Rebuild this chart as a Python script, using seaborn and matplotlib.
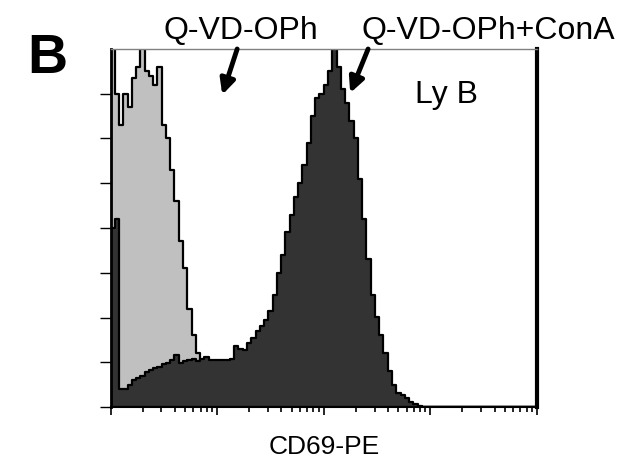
import numpy as np
import matplotlib
matplotlib.use("Agg")
import matplotlib.pyplot as plt
import seaborn as sns

# CD69-PE histogram, 100 bins per log10 channel from 10^1 to 10^5
log_edges = list(np.linspace(1, 5, 101))
bin_mid = 10 ** ((np.array(log_edges[:-1]) + np.array(log_edges[1:])) / 2)

# event counts per bin (first bins only, rest are empty)
qvd = [95, 70, 63, 70, 67, 73.5, 76, 82, 75, 74, 72, 76, 63, 60, 53, 46,
       37, 31, 22, 16, 12, 9, 6, 4, 2, 1]
qvd_cona = [40, 42, 4, 4, 5, 6, 6.5, 7, 7.8, 8.3,
            8.8, 9, 9.5, 9.8, 10.5, 11.6, 9.8, 10.3, 10.5, 10.8,
            10.2, 10.8, 11.2, 10.5, 10.5, 10.5, 10.5, 10.6, 10.8, 13.6,
            13.0, 12.8, 14.2, 15.5, 17, 18.2, 19.5, 21.5, 25, 30,
            34, 39, 43, 47, 50, 54, 59, 65, 69, 70,
            72, 75, 83, 76, 71, 68, 64, 60, 51, 42,
            33, 25, 20, 16, 12, 8, 5, 3.2, 2.6, 2.0,
            1.2, 0.6, 0.2]

sns.set_style("ticks", {"axes.edgecolor": "black", "text.color": "black",
                        "axes.labelcolor": "black", "xtick.color": "black",
                        "ytick.color": "black"})
plt.rcParams['font.family'] = ['Liberation Sans', 'DejaVu Sans']

W, H = 622, 462
fig = plt.figure(figsize=(W / 100, H / 100), dpi=100)
ax = fig.add_axes([110.5 / W, 1 - 407 / H, (537 - 110.5) / W, (407 - 49) / H])

sns.histplot(x=bin_mid[:len(qvd)], weights=qvd, bins=log_edges, log_scale=True,
             element="step", fill=True, color="#c0c0c0", alpha=1,
             edgecolor="black", linewidth=1.6, ax=ax)
sns.histplot(x=bin_mid[:len(qvd_cona)], weights=qvd_cona, bins=log_edges, log_scale=True,
             element="step", fill=True, color="#333333", alpha=1,
             edgecolor="black", linewidth=1.6, ax=ax)

ax.set_xlim(10, 1e5)
ax.set_ylim(0, 80)
ax.set_yticks(range(0, 80, 10))
ax.set_ylabel("")
ax.set_xlabel("CD69-PE", fontsize=19, labelpad=14, color="black")
ax.tick_params(axis="x", which="major", length=6, width=1.2, labelbottom=False, color="black")
ax.tick_params(axis="x", which="minor", length=3.5, width=1.2, labelbottom=False, color="black")
ax.tick_params(axis="y", length=8, width=1, labelleft=False, color="black")

ax.spines["top"].set_color("#808080")
ax.spines["top"].set_linewidth(1)
for side, lw in [("right", 3), ("left", 2), ("bottom", 1.5)]:
    ax.spines[side].set_color("black")
    ax.spines[side].set_linewidth(lw)

fig.text(47 / W, 1 - 73 / H, "B", fontsize=40, fontweight="bold", ha="center",
         va="baseline", color="black")
fig.text(241 / W, 1 - 39 / H, "Q-VD-OPh", fontsize=23, ha="center", va="baseline", color="black")
fig.text(488 / W, 1 - 39 / H, "Q-VD-OPh+ConA", fontsize=23, ha="center", va="baseline", color="black")
ax.text(0.788, 0.85, "Ly B", transform=ax.transAxes, fontsize=23, ha="center",
        va="baseline", color="black")

arrow = dict(arrowstyle="-|>,head_length=0.45,head_width=0.22", color="black",
             lw=3.5, mutation_scale=20, shrinkA=0, shrinkB=0)
ax.annotate("", xy=(0.262, 0.872), xytext=(0.297, 1.0), xycoords="axes fraction",
            textcoords="axes fraction", arrowprops=arrow)
ax.annotate("", xy=(0.562, 0.877), xytext=(0.604, 1.0), xycoords="axes fraction",
            textcoords="axes fraction", arrowprops=arrow)

fig.savefig("out.png", dpi=100)
